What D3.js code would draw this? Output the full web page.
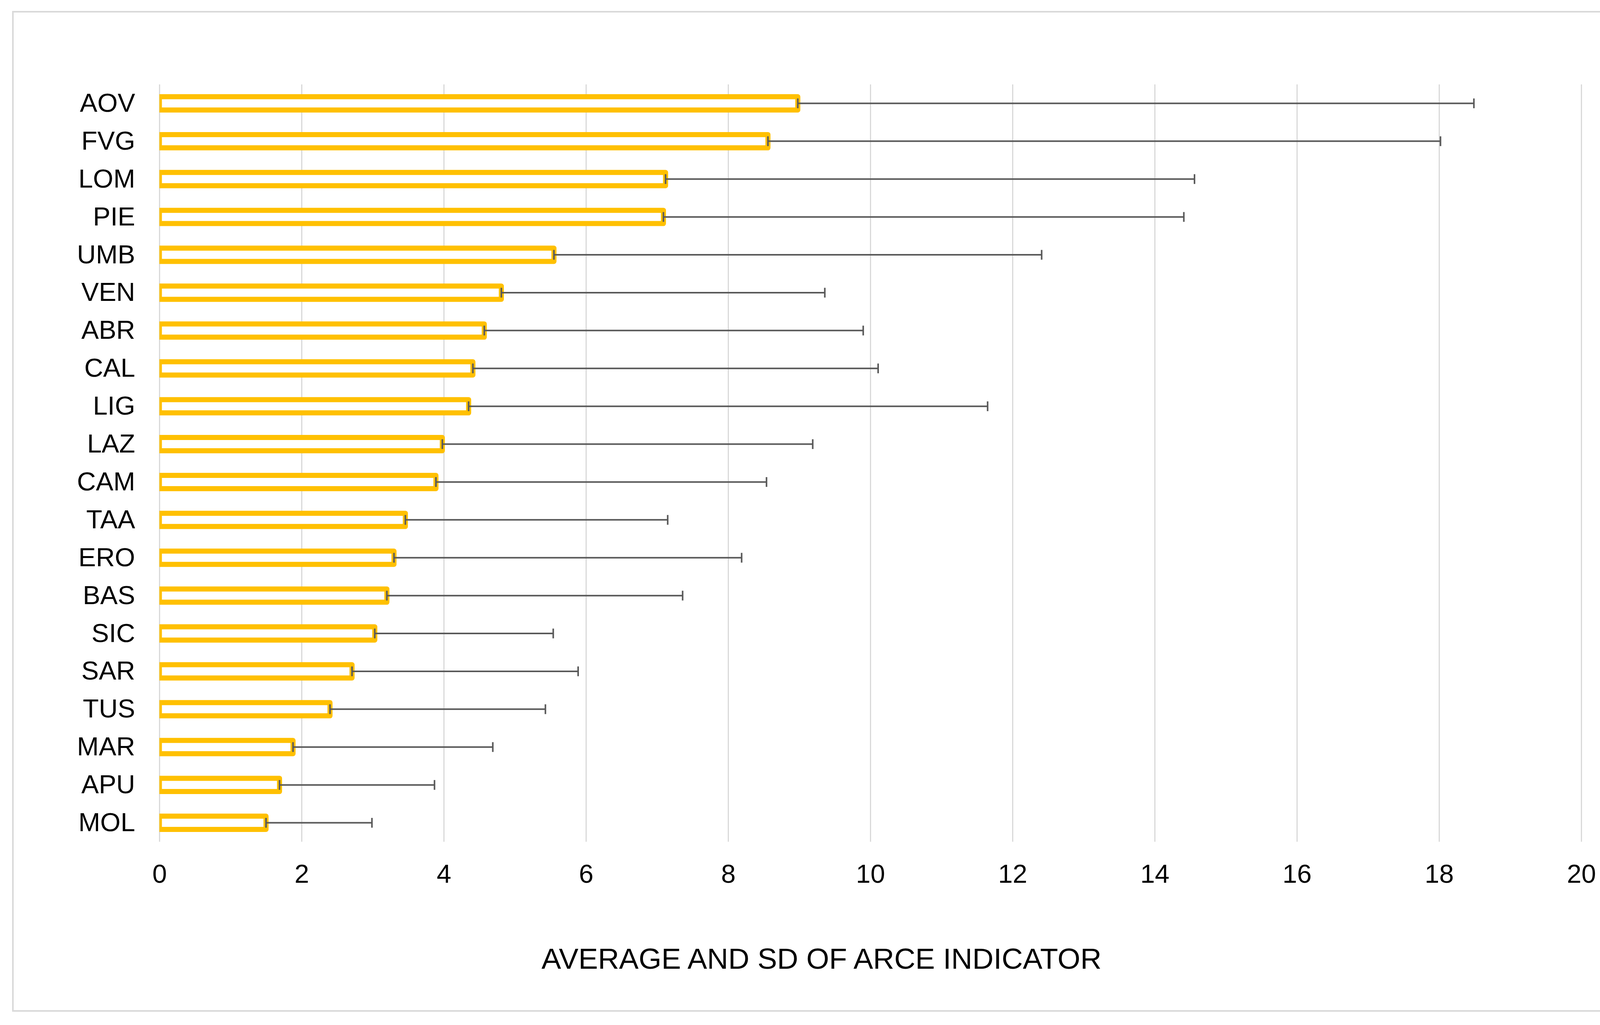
<!DOCTYPE html>
<html>
<head>
<meta charset="utf-8">
<script src="https://cdn.jsdelivr.net/npm/d3@7/dist/d3.min.js"></script>
<style>
  body { margin: 0; background: #fff; }
  text { font-family: "Liberation Sans", Arial, sans-serif; }
</style>
</head>
<body>
<div id="chart"></div>
<script>
var regions = ['AOV','FVG','LOM','PIE','UMB','VEN','ABR','CAL','LIG','LAZ',
               'CAM','TAA','ERO','BAS','SIC','SAR','TUS','MAR','APU','MOL'];

var means = [8.98, 8.56, 7.12, 7.09, 5.55, 4.81, 4.57, 4.41, 4.35, 3.98,
             3.89, 3.46, 3.30, 3.20, 3.03, 2.71, 2.40, 1.88, 1.69, 1.50];

var sds = [9.51, 9.46, 7.44, 7.32, 6.86, 4.55, 5.33, 5.70, 7.30, 5.21,
           4.65, 3.69, 4.89, 4.16, 2.51, 3.18, 3.03, 2.81, 2.18, 1.49];

var xTicks = [0, 2, 4, 6, 8, 10, 12, 14, 16, 18, 20];

var axisTitle = 'AVERAGE AND SD OF ARCE INDICATOR';

var W = 4229, H = 2623;
var margin = {top: 216, right: 181, bottom: 469, left: 408},
  width = W - margin.left - margin.right,
  height = H - margin.top - margin.bottom;

var data = regions.map(function(r, i) {
  return {region: r, mean: means[i], sd: sds[i]};
});

var x = d3.scaleLinear()
  .domain([0, 20])
  .range([0, width]);

var y = d3.scaleBand()
  .domain(regions)
  .range([0, height]);

var root = d3.select('#chart')
  .append('svg')
    .attr('width', W)
    .attr('height', H);

root.append('rect')
  .attr('x', 33)
  .attr('y', 30)
  .attr('width', 4168)
  .attr('height', 2557)
  .attr('fill', '#fff')
  .attr('stroke', '#d9d9d9')
  .attr('stroke-width', 4);

var svg = root.append('g')
  .attr('transform', 'translate(' + margin.left + ',' + margin.top + ')');

svg.append('defs').append('clipPath')
  .attr('id', 'plotclip')
  .append('rect')
    .attr('x', 0)
    .attr('y', -10)
    .attr('width', width + 20)
    .attr('height', height + 20);

// vertical grid
svg.append('g')
  .attr('class', 'grid')
  .attr('transform', 'translate(0,' + height + ')')
  .call(d3.axisBottom(x)
    .tickValues(xTicks)
    .tickSize(-height)
    .tickFormat(''))
  .call(function(g) { g.select('.domain').remove(); })
  .selectAll('line')
    .attr('stroke', '#d9d9d9')
    .attr('stroke-width', 3);

// x tick labels
svg.append('g')
  .attr('class', 'x_axis')
  .attr('transform', 'translate(0,' + height + ')')
  .call(d3.axisBottom(x)
    .tickValues(xTicks)
    .tickSize(0)
    .tickPadding(57))
  .call(function(g) { g.select('.domain').remove(); })
  .selectAll('text')
    .attr('font-size', 67)
    .attr('fill', '#000');

// y labels
svg.append('g')
  .attr('class', 'y_axis')
  .call(d3.axisLeft(y)
    .tickSize(0)
    .tickPadding(62))
  .call(function(g) { g.select('.domain').remove(); })
  .selectAll('text')
    .attr('font-size', 67)
    .attr('fill', '#000');

var barH = y.bandwidth() * 0.35;

svg.append('g')
  .attr('clip-path', 'url(#plotclip)')
  .selectAll('.bar')
  .data(data)
  .enter().append('rect')
    .attr('class', 'bar')
    .attr('x', x(0))
    .attr('y', function(d) { return y(d.region) + y.bandwidth() / 2 - barH / 2; })
    .attr('width', function(d) { return x(d.mean) - x(0); })
    .attr('height', barH)
    .attr('fill', '#fff')
    .attr('stroke', '#FFC000')
    .attr('stroke-width', 13)
    .attr('stroke-linejoin', 'round');

var capH = 25;
var eb = svg.selectAll('.err')
  .data(data)
  .enter().append('g')
    .attr('class', 'err')
    .attr('transform', function(d) { return 'translate(0,' + (y(d.region) + y.bandwidth() / 2) + ')'; })
    .attr('stroke', '#595959')
    .attr('stroke-width', 4);

eb.append('line')
  .attr('x1', function(d) { return x(d.mean); })
  .attr('x2', function(d) { return x(d.mean + d.sd); })
  .attr('y1', 0).attr('y2', 0);

eb.append('line')
  .attr('x1', function(d) { return x(d.mean); })
  .attr('x2', function(d) { return x(d.mean); })
  .attr('y1', -capH / 2).attr('y2', capH / 2);

eb.append('line')
  .attr('x1', function(d) { return x(d.mean + d.sd); })
  .attr('x2', function(d) { return x(d.mean + d.sd); })
  .attr('y1', -capH / 2).attr('y2', capH / 2);

svg.append('text')
  .attr('x', x(0) + 1695)
  .attr('y', height + 325)
  .attr('text-anchor', 'middle')
  .attr('font-size', 75)
  .attr('fill', '#000')
  .text(axisTitle);
</script>
</body>
</html>
